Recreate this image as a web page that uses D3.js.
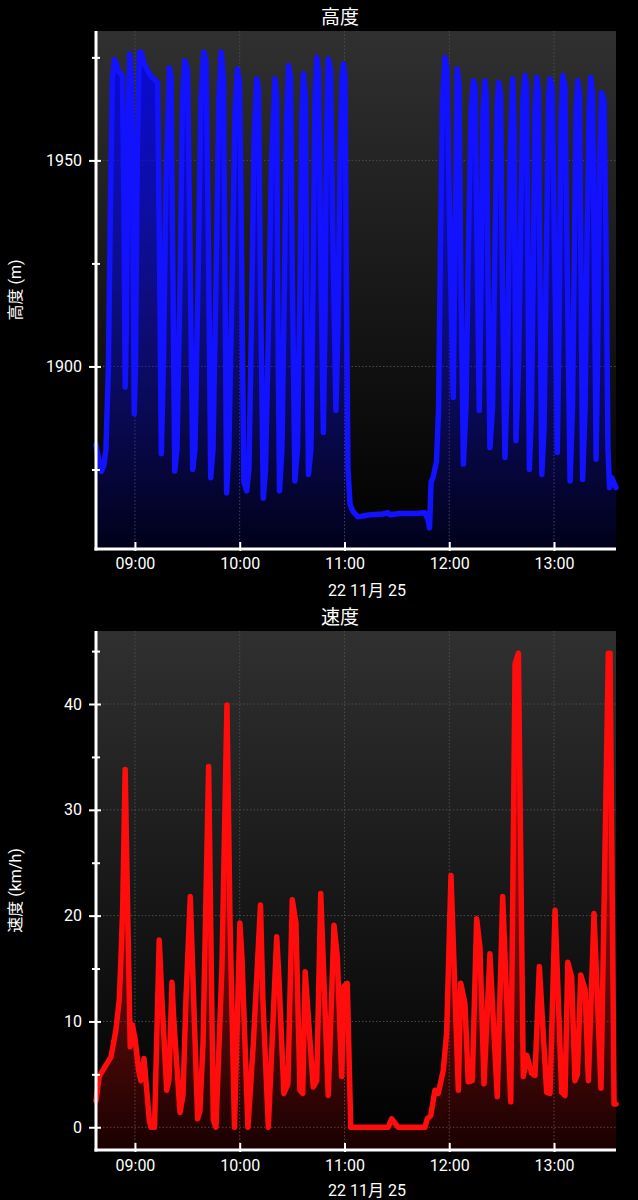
<!DOCTYPE html>
<html>
<head>
<meta charset="utf-8">
<script src="https://cdn.jsdelivr.net/npm/d3@7"></script>
<style>
  html, body { margin: 0; padding: 0; background: #000; }
  svg { display: block; }
  text { font-family: Roboto, "Noto Sans CJK JP", sans-serif; fill: #fff; }
</style>
</head>
<body>
<svg id="chart" width="638" height="1200"></svg>
<script>
// ---- Data (time = minutes after 08:00 on 2022-11-25) ----
const dateLabel = "22 11月 25";
const altTitle = "高度";
const altAxisTitle = "高度 (m)";
const speedTitle = "速度";
const speedAxisTitle = "速度 (km/h)";

const altMinutes = [37.7, 39.4, 40.8, 42.2, 43.4, 44.8, 46.0, 47.1, 48.3, 49.7,
  50.8, 52.8, 53.7, 54.4, 55.1, 56.0, 57.0, 58.0, 58.9, 59.6,
  60.3, 61.3, 62.5, 63.8, 65.2, 67.3, 69.2, 71.5, 73.0, 74.0,
  75.1, 76.3, 77.8, 79.8, 80.7, 81.8, 82.8, 84.1, 85.8, 87.2,
  88.5, 90.1, 91.5, 93.1, 94.4, 96.1, 97.8, 99.4, 100.7, 102.1,
  103.4, 104.7, 106.4, 108.1, 109.4, 110.7, 111.6, 112.5, 113.8, 115.6,
  117.3, 118.7, 119.9, 121.0, 122.4, 124.0, 125.3, 126.7, 128.2, 129.7,
  130.7, 131.9, 133.5, 134.8, 136.5, 138.2, 140.2, 141.1, 141.9, 142.8,
  144.2, 145.6, 146.8, 148.0, 149.1, 150.2, 151.6, 153.1, 154.5, 155.5,
  156.5, 157.7, 158.5, 159.4, 160.8, 162.0, 163.1, 164.1, 165.1, 166.3,
  167.9, 168.8, 169.7, 170.7, 172.0, 173.4, 175.1, 176.3, 177.4, 178.6,
  179.4, 180.3, 181.1, 182.0, 183.2, 184.9, 187.7, 194.6, 202.1, 204.9,
  206.1, 211.8, 220.4, 226.1, 228.1, 228.7, 229.6, 230.7, 232.7, 233.9,
  235.0, 236.1, 237.6, 238.7, 240.4, 242.3, 243.3, 244.6, 245.6, 246.7,
  248.1, 249.6, 251.0, 252.5, 253.8, 254.8, 255.9, 257.2, 258.2, 259.3,
  260.5, 261.3, 262.2, 263.3, 264.8, 266.2, 267.4, 268.2, 269.4, 270.5,
  271.9, 273.4, 274.8, 276.3, 277.1, 277.7, 278.2, 279.7, 281.1, 282.2,
  283.4, 284.3, 285.1, 285.9, 287.1, 288.3, 289.1, 290.1, 291.1, 292.0,
  293.0, 294.3, 295.7, 296.9, 297.7, 298.9, 300.6, 301.9, 302.9, 304.0,
  305.0, 306.3, 307.7, 309.2, 310.6, 311.7, 312.6, 313.6, 314.6, 315.5,
  316.4, 317.8, 318.9, 320.1, 321.0, 322.1, 323.2, 324.1, 324.9, 326.1,
  327.3, 328.6, 329.8, 330.9, 331.8, 333.1, 334.1, 335.5];

const altMeters = [1881, 1877, 1874.5, 1876, 1880, 1900, 1940, 1970, 1974.5, 1973,
  1971.5, 1970.5, 1940, 1895, 1910, 1955, 1975.8, 1970, 1930, 1888.5,
  1900, 1950, 1976.3, 1976, 1973.5, 1971.8, 1970.4, 1969.5, 1968.9, 1930,
  1878.8, 1900, 1945, 1972.5, 1970, 1920, 1874.6, 1880, 1920, 1965,
  1974.2, 1972, 1930, 1875, 1880, 1920, 1965, 1976.3, 1974, 1930,
  1873, 1880, 1920, 1965, 1976.3, 1970, 1920, 1869.3, 1880, 1920,
  1962, 1972.2, 1969, 1930, 1872, 1869.8, 1875, 1910, 1955, 1969.8,
  1968, 1920, 1868, 1875, 1910, 1950, 1969.8, 1965, 1910, 1869.8,
  1880, 1920, 1960, 1973, 1970, 1920, 1872.2, 1880, 1920, 1960,
  1971, 1965, 1910, 1873.8, 1880, 1920, 1965, 1975, 1972, 1930,
  1884, 1910, 1955, 1974.6, 1972, 1930, 1889.3, 1910, 1950, 1970,
  1973.4, 1970, 1920, 1875, 1866.5, 1864.8, 1863.5, 1864, 1864.2, 1864.5,
  1864, 1864.3, 1864.3, 1864.5, 1862.5, 1860.8, 1872, 1873, 1877, 1890,
  1930, 1965, 1975, 1972, 1930, 1892.5, 1930, 1972.2, 1968, 1920,
  1876.3, 1890, 1930, 1962, 1969.3, 1968, 1930, 1889.3, 1920, 1962,
  1969.3, 1965, 1920, 1880.3, 1890, 1930, 1963, 1968.9, 1966, 1920,
  1877.9, 1900, 1950, 1969.8, 1960, 1920, 1882, 1900, 1940, 1965,
  1970.6, 1968, 1920, 1875, 1890, 1930, 1962, 1970.2, 1967, 1920,
  1873.8, 1885, 1930, 1965, 1969.8, 1968, 1920, 1879.1, 1910, 1960,
  1970.6, 1968, 1920, 1872.2, 1890, 1930, 1962, 1969.3, 1966, 1920,
  1872.6, 1890, 1930, 1962, 1970.2, 1966, 1920, 1877.5, 1900, 1950,
  1966.5, 1964.5, 1930, 1880, 1870.6, 1873, 1872, 1870.6];

const speedMinutes = [37.7, 39.6, 42.8, 46.3, 49.1, 51.0, 52.0, 53.0, 54.4, 55.8,
  57.3, 58.5, 60.2, 62.1, 63.4, 65.2, 66.3, 68.2, 69.2, 71.2,
  73.9, 75.5, 78.2, 79.5, 81.2, 82.3, 85.8, 87.5, 89.2, 91.7,
  95.9, 97.2, 99.0, 102.2, 104.9, 106.4, 109.8, 112.7, 114.4, 117.0,
  120.1, 121.3, 124.7, 127.8, 131.9, 133.3, 136.4, 141.2, 142.5, 145.3,
  147.6, 150.1, 152.2, 154.5, 156.1, 157.5, 162.1, 164.1, 166.4, 170.7,
  174.0, 175.9, 178.4, 179.7, 181.6, 183.6, 205.1, 207.0, 208.4, 210.8,
  226.1, 227.4, 229.4, 231.8, 233.7, 236.6, 238.5, 241.0, 245.2, 246.6,
  249.0, 250.9, 253.2, 255.7, 257.6, 259.9, 263.3, 267.5, 270.6, 275.2,
  277.7, 279.6, 282.4, 284.4, 287.2, 289.1, 291.6, 295.8, 297.7, 300.6,
  304.4, 306.3, 307.9, 310.1, 312.0, 313.4, 315.3, 317.8, 319.7, 322.9,
  326.9, 331.1, 332.1, 334.4, 335.5];

const speedKmh = [2.5, 4.8, 5.7, 6.65, 9.2, 12, 16, 20.8, 33.8, 20.8,
  7.6, 9.7, 8.2, 5.4, 4.4, 6.5, 4.4, 0.7, 0, 0,
  17.7, 12, 3.5, 4.5, 13.7, 10, 1.4, 3, 12, 21.8,
  0.8, 1.5, 8, 34.1, 0.7, 0, 15, 39.9, 20, 0,
  19.3, 16, 0, 7.9, 21, 12, 0, 18, 14, 3.2,
  4.1, 21.5, 19.3, 3.5, 3.2, 14.7, 3.8, 4.4, 22.1, 3.0,
  19.1, 16.1, 4.8, 13.3, 13.6, 0, 0, 0.8, 0.5, 0,
  0, 0.8, 1.1, 3.5, 3.2, 5.4, 8.9, 23.8, 3.5, 13.6,
  11.7, 4.3, 4.4, 19.7, 17, 4.1, 16.4, 2.9, 21.8, 2.4,
  43.8, 44.8, 4.8, 6.8, 5.1, 4.9, 15.2, 3.3, 3.2, 20.5,
  3.3, 3.0, 15.6, 14.2, 4.4, 5.0, 14.4, 13, 4.4, 20.2,
  3.7, 44.8, 44.8, 2.2, 2.2];

const altMajorTicks = [1900, 1950];
const altMinorTicks = [1875, 1925, 1975];
const speedMajorTicks = [0, 10, 20, 30, 40];
const speedMinorTicks = [5, 15, 25, 35, 45];
const altDomain = [1855.7, 1981.4];
const speedDomain = [-2.15, 46.9];
const timeDomainMinutes = [37.7, 335.5];

// ---- helpers ----
const base = new Date(2022, 10, 25, 8, 0, 0).getTime();
const toDate = m => new Date(base + m * 60000);

const svg = d3.select("#chart");
const defs = svg.append("defs");

const bg = defs.append("linearGradient").attr("id", "bgGrad")
  .attr("x1", 0).attr("y1", 0).attr("x2", 0).attr("y2", 1);
bg.append("stop").attr("offset", "0%").attr("stop-color", "#303030");
bg.append("stop").attr("offset", "100%").attr("stop-color", "#000000");

function fillGrad(id, color) {
  const g = defs.append("linearGradient").attr("id", id)
    .attr("x1", 0).attr("y1", 0).attr("x2", 0).attr("y2", 1);
  g.append("stop").attr("offset", "0%").attr("stop-color", color).attr("stop-opacity", 0.8);
  g.append("stop").attr("offset", "100%").attr("stop-color", color).attr("stop-opacity", 0.1);
}
fillGrad("fillBlue", "#0000ff");
fillGrad("fillRed", "#ff0000");

function drawChart(cfg) {
  const { left, right, top, bottom, times, values, yDomain, major, minor,
          color, fillId, title, axisTitle, titleY, tickLabelY, dateY } = cfg;
  const g = svg.append("g");
  const x = d3.scaleTime().domain(timeDomainMinutes.map(toDate)).range([left, right]);
  const y = d3.scaleLinear().domain(yDomain).range([bottom, top]);
  const data = times.map((t, i) => ({ t: toDate(t), v: values[i] }));

  g.append("rect").attr("x", left).attr("y", top)
    .attr("width", right - left).attr("height", bottom - top)
    .attr("fill", "url(#bgGrad)");

  const hourTicks = x.ticks(d3.timeHour.every(1));
  g.append("g").selectAll("line").data(hourTicks).join("line")
    .attr("x1", d => x(d)).attr("x2", d => x(d))
    .attr("y1", top).attr("y2", bottom)
    .attr("stroke", "#4c4c4c").attr("stroke-width", 1).attr("stroke-dasharray", "1.5,2");
  g.append("g").selectAll("line").data(major).join("line")
    .attr("x1", left).attr("x2", right)
    .attr("y1", d => y(d)).attr("y2", d => y(d))
    .attr("stroke", "#4c4c4c").attr("stroke-width", 1).attr("stroke-dasharray", "1.5,2");

  const area = d3.area().x(d => x(d.t)).y0(bottom).y1(d => y(d.v));
  g.append("path").datum(data).attr("d", area).attr("fill", `url(#${fillId})`);
  const line = d3.line().x(d => x(d.t)).y(d => y(d.v));
  g.append("path").datum(data).attr("d", line)
    .attr("fill", "none").attr("stroke", color).attr("stroke-width", 5.5)
    .attr("stroke-linejoin", "round").attr("stroke-linecap", "round");

  const yAxL = g.append("g").attr("transform", `translate(${left},0)`)
    .call(d3.axisLeft(y).tickValues(major).tickFormat(d3.format("d")).tickSize(7).tickPadding(7));
  const yAxR = g.append("g").attr("transform", `translate(${left},0)`)
    .call(d3.axisRight(y).tickValues(major).tickFormat("").tickSize(5));
  const yMinL = g.append("g").attr("transform", `translate(${left},0)`)
    .call(d3.axisLeft(y).tickValues(minor).tickFormat("").tickSize(4));
  const yMinR = g.append("g").attr("transform", `translate(${left},0)`)
    .call(d3.axisRight(y).tickValues(minor).tickFormat("").tickSize(4));
  [yAxL, yAxR, yMinL, yMinR].forEach(a => {
    a.select(".domain").remove();
    a.selectAll(".tick line").attr("stroke", "#fff").attr("stroke-width", 2);
    a.selectAll("text").attr("font-size", 16).attr("fill", "#fff")
      .style("font-family", "Roboto, sans-serif");
  });

  const xUp = g.append("g").attr("transform", `translate(0,${bottom})`)
    .call(d3.axisTop(x).tickValues(hourTicks).tickFormat("").tickSize(7));
  const xDown = g.append("g").attr("transform", `translate(0,${bottom})`)
    .call(d3.axisBottom(x).tickValues(hourTicks).tickFormat(d3.timeFormat("%H:%M"))
      .tickSize(2).tickPadding(tickLabelY - bottom - 2 - 11.4));
  [xUp, xDown].forEach(a => {
    a.select(".domain").remove();
    a.selectAll(".tick line").attr("stroke", "#fff").attr("stroke-width", 2);
    a.selectAll("text").attr("font-size", 16).attr("fill", "#fff")
      .style("font-family", "Roboto, sans-serif");
  });

  g.append("line").attr("x1", left).attr("x2", left).attr("y1", top).attr("y2", bottom + 1.5)
    .attr("stroke", "#fff").attr("stroke-width", 3);
  g.append("line").attr("x1", left - 1.5).attr("x2", right).attr("y1", bottom).attr("y2", bottom)
    .attr("stroke", "#fff").attr("stroke-width", 3);

  g.append("text").attr("x", 340).attr("y", titleY).attr("text-anchor", "middle")
    .attr("font-size", 19).text(title);
  g.append("text").attr("x", 367).attr("y", dateY).attr("text-anchor", "middle")
    .attr("font-size", 16).text(dateLabel);
  g.append("text").attr("transform", `translate(15,${(top + bottom) / 2}) rotate(-90)`)
    .attr("text-anchor", "middle").attr("dominant-baseline", "central")
    .attr("font-size", 16).text(axisTitle);
}

drawChart({
  left: 96, right: 616, top: 31, bottom: 549,
  times: altMinutes, values: altMeters, yDomain: altDomain,
  major: altMajorTicks, minor: altMinorTicks,
  color: "#1212ff", fillId: "fillBlue",
  title: altTitle, axisTitle: altAxisTitle,
  titleY: 24, tickLabelY: 569, dateY: 596
});

drawChart({
  left: 96, right: 616, top: 631, bottom: 1150,
  times: speedMinutes, values: speedKmh, yDomain: speedDomain,
  major: speedMajorTicks, minor: speedMinorTicks,
  color: "#ff0d0d", fillId: "fillRed",
  title: speedTitle, axisTitle: speedAxisTitle,
  titleY: 624, tickLabelY: 1171, dateY: 1196
});
</script>
</body>
</html>
